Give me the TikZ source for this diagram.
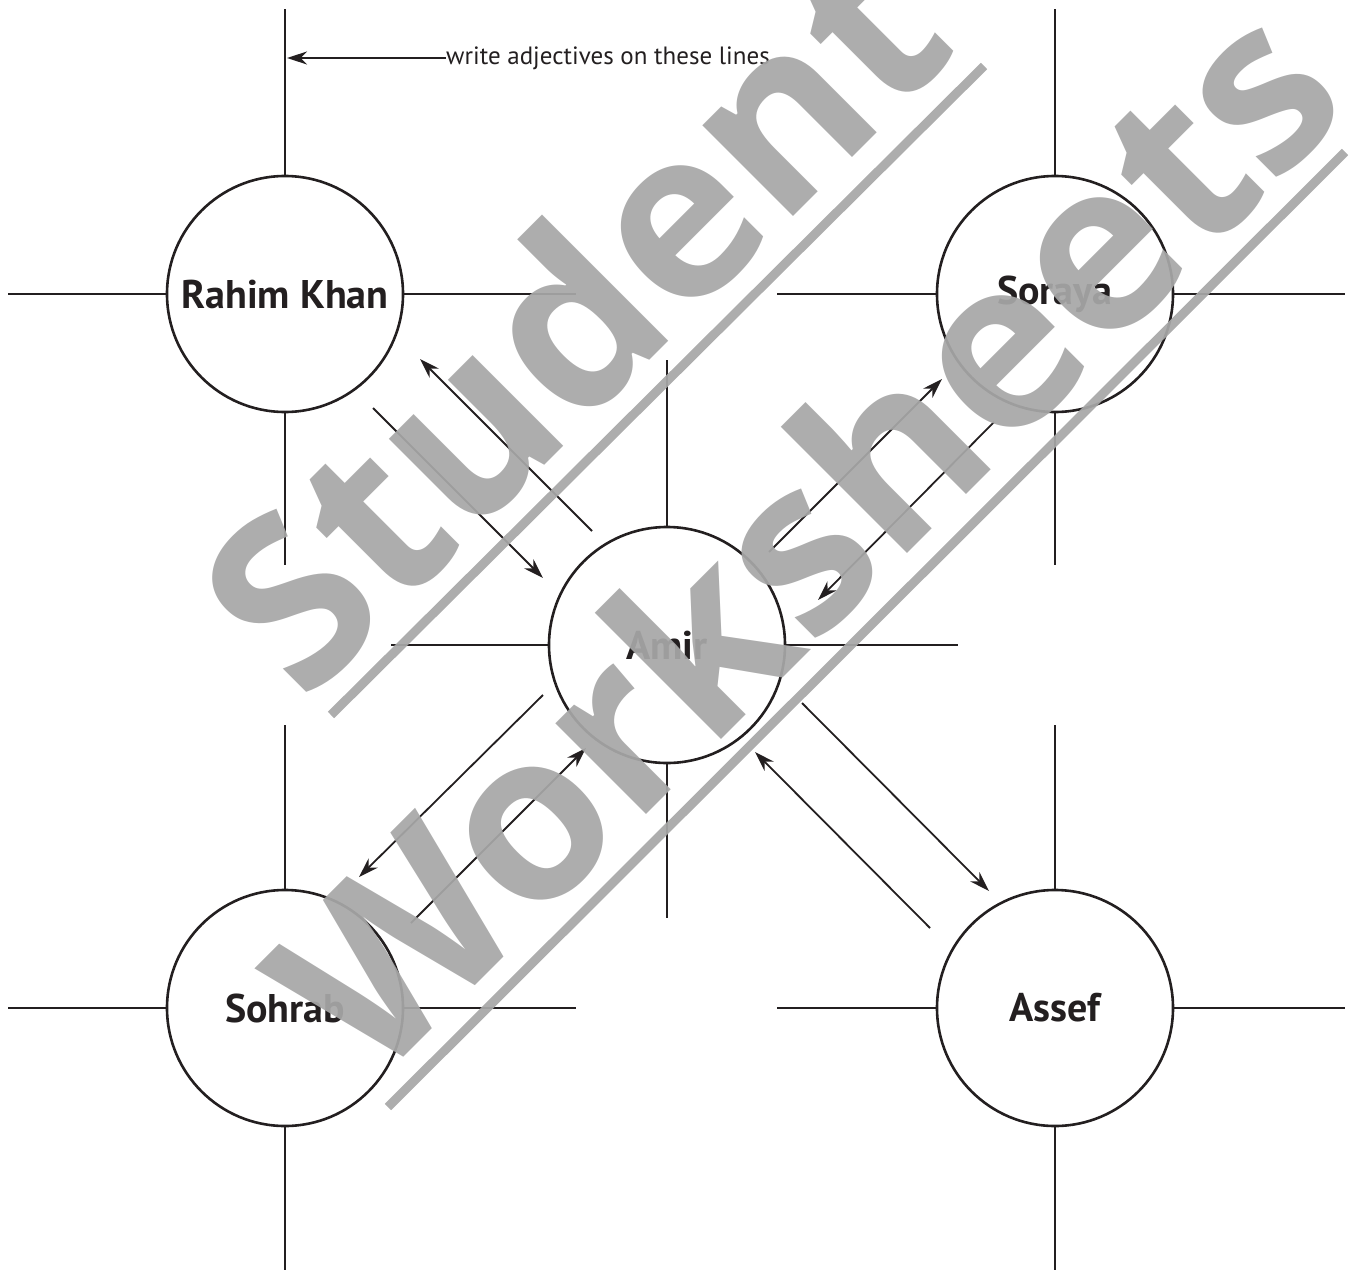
\documentclass[tikz,border=0pt]{standalone}
\usepackage{fontspec}
\setmainfont{PT Sans}
\newfontfamily\wmfont{Open Sans}
\usetikzlibrary{arrows.meta}
\definecolor{ink}{HTML}{231F20}
\definecolor{wmgray}{gray}{0.655}
\begin{document}
\begin{tikzpicture}[x=1pt,y=-1pt,
  person/.style={circle, draw=ink, line width=2.6pt, minimum size=236pt, inner sep=0pt,
     font=\fontsize{40}{44}\selectfont\bfseries, text=ink},
  spoke/.style={draw=ink, line width=2.4pt},
  arr/.style={draw=ink, line width=1.8pt, -{Stealth[length=20pt,width=13pt]}},
  wmtext/.style={rotate=45, anchor=base west, inner sep=0pt, text=wmgray, text opacity=0.93,
     font=\wmfont\bfseries\fontsize{235}{240}\selectfont},
  wmbar/.style={draw=wmgray, draw opacity=0.93, line width=9pt}]
\useasboundingbox (0,0) rectangle (1351,1279);
% persons
\node[person] (rk) at (285,294) {Rahim Khan};
\node[person] (so) at (1055,294) {Soraya};
\node[person] (am) at (667,645) {Amir};
\node[person] (sh) at (285,1008) {Sohrab};
\node[person] (as) at (1055,1008) {Assef};
% spokes
\draw[spoke] (rk.north) -- ++(0,-166);
\draw[spoke] (rk.south) -- ++(0,152);
\draw[spoke] (rk.west) -- ++(-158,0);
\draw[spoke] (rk.east) -- ++(172,0);
\draw[spoke] (so.north) -- ++(0,-166);
\draw[spoke] (so.south) -- ++(0,152);
\draw[spoke] (so.west) -- ++(-159,0);
\draw[spoke] (so.east) -- ++(171,0);
\draw[spoke] (am.north) -- ++(0,-166);
\draw[spoke] (am.south) -- ++(0,154);
\draw[spoke] (am.west) -- ++(-157,0);
\draw[spoke] (am.east) -- ++(172,0);
\draw[spoke] (sh.north) -- ++(0,-164);
\draw[spoke] (sh.south) -- ++(0,143);
\draw[spoke] (sh.west) -- ++(-158,0);
\draw[spoke] (sh.east) -- ++(172,0);
\draw[spoke] (as.north) -- ++(0,-164);
\draw[spoke] (as.south) -- ++(0,143);
\draw[spoke] (as.west) -- ++(-159,0);
\draw[spoke] (as.east) -- ++(171,0);
% label
\node[anchor=west, inner sep=0pt, font=\fontsize{25}{29}\selectfont, text=ink] (lbl) at (446,58) {write adjectives on these lines};
\coordinate (lblt) at (287,58);
\draw[arr] (lbl.west) -- (lblt);
% relation arrows
\coordinate (a1s) at (373,408); \coordinate (a1e) at (543,578);
\coordinate (a2s) at (592,531); \coordinate (a2e) at (420,359);
\coordinate (a3s) at (769,552); \coordinate (a3e) at (942,379);
\coordinate (a4s) at (994,422); \coordinate (a4e) at (818,600);
\coordinate (a5s) at (543,695); \coordinate (a5e) at (359,877);
\coordinate (a6s) at (411,923); \coordinate (a6e) at (586,748);
\coordinate (a7s) at (802,703); \coordinate (a7e) at (989,891);
\coordinate (a8s) at (930,928); \coordinate (a8e) at (755,752);
\draw[arr] (a1s) -- (a1e);
\draw[arr] (a2s) -- (a2e);
\draw[arr] (a3s) -- (a3e);
\draw[arr] (a4s) -- (a4e);
\draw[arr] (a5s) -- (a5e);
\draw[arr] (a6s) -- (a6e);
\draw[arr] (a7s) -- (a7e);
\draw[arr] (a8s) -- (a8e);
% watermark
\node[wmtext] (wm1) at (304,706) {Student};
\node[wmtext] (wm2) at (373,1088) {Worksheets};
\coordinate (b1s) at (331,715); \coordinate (b1e) at (984,66);
\coordinate (b2s) at (388,1107); \coordinate (b2e) at (1345,152);
\draw[wmbar] (b1s) -- (b1e);
\draw[wmbar] (b2s) -- (b2e);
\end{tikzpicture}
\end{document}
